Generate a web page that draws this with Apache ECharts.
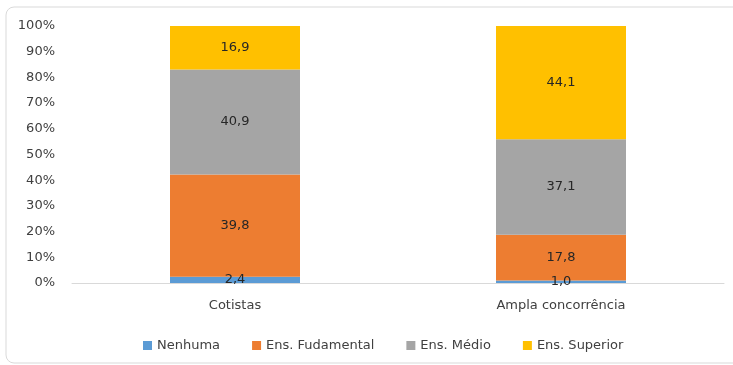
<!DOCTYPE html>
<html><head><meta charset="utf-8">
<script src="https://cdn.jsdelivr.net/npm/echarts@6/dist/echarts.min.js"></script>
<style>html,body{margin:0;padding:0;background:#fff}#c{width:733px;height:365px}</style>
</head><body><div id="c"></div>
<script>
var categories = ['Cotistas', 'Ampla concorrência'];
var seriesNames = ['Nenhuma', 'Ens. Fudamental', 'Ens. Médio', 'Ens. Superior'];
var nenhuma = [2.4, 1.0];
var fundamental = [39.8, 17.8];
var medio = [40.9, 37.1];
var superior = [16.9, 44.1];
var colors = ['#5B9BD5', '#ED7D31', '#A5A5A5', '#FFC000'];
var values = [nenhuma, fundamental, medio, superior];
var font = 'DejaVu Sans';
var chart = echarts.init(document.getElementById('c'));
chart.setOption({
  animation: false,
  color: colors,
  graphic: [{type:'rect', shape:{x:6, y:7, width:760, height:356, r:8}, style:{fill:'none', stroke:'#d9d9d9', lineWidth:1}, z:-1}],
  grid: {left: 72, right: 9, top: 26, bottom: 82},
  legend: {
    top: 334, left: 138, itemWidth: 9, itemHeight: 9, itemGap: 32, icon: 'rect',
    textStyle: {fontFamily: font, fontSize: 13, color: '#404040'},
    data: seriesNames
  },
  xAxis: {
    type: 'category', data: categories,
    axisLine: {lineStyle: {color: '#d9d9d9'}}, axisTick: {show: false},
    axisLabel: {fontFamily: font, fontSize: 13, color: '#404040', margin: 16}
  },
  yAxis: {
    type: 'value', min: 0, max: 100, interval: 10,
    splitLine: {show: false}, axisLine: {show: false}, axisTick: {show: false},
    axisLabel: {fontFamily: font, fontSize: 13, color: '#404040', margin: 17, formatter: '{value}%'}
  },
  series: seriesNames.map(function(n, i){
    return {
      name: n, type: 'bar', stack: 'total', barWidth: 130, data: values[i],
      label: {show: true, position: 'inside', fontFamily: font, fontSize: 13, color: '#262626',
        formatter: function(p){ return p.value.toFixed(1).replace('.', ','); }}
    };
  })
});
</script></body></html>
